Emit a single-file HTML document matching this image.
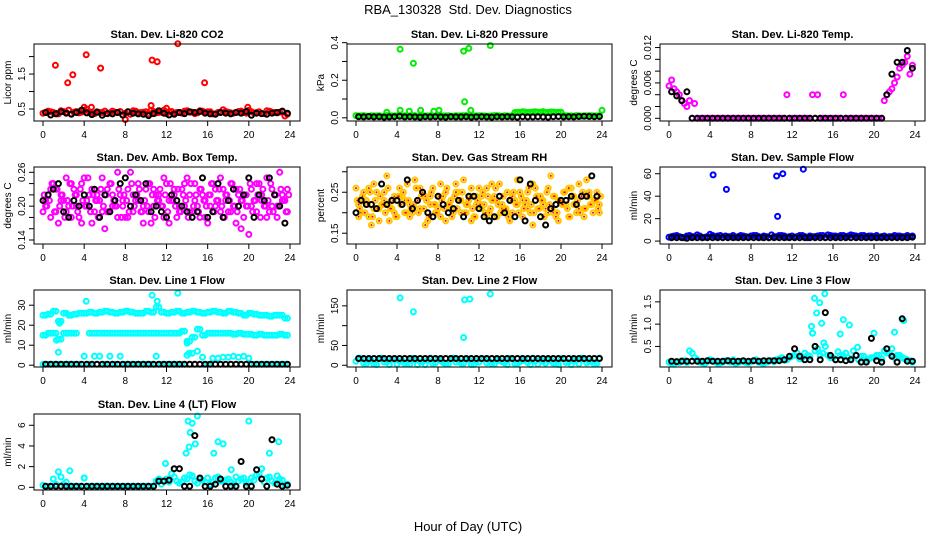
<!DOCTYPE html>
<html><head><meta charset="utf-8"><style>
html,body{margin:0;padding:0;background:#fff;}
svg{display:block;font-family:"Liberation Sans",Arial,sans-serif;}
</style></head><body>
<svg id="chart" width="936" height="540" viewBox="0 0 936 540" xmlns="http://www.w3.org/2000/svg">
<text x="468" y="14" text-anchor="middle" font-size="13">RBA_130328&#160; Std. Dev. Diagnostics</text>
<text x="468" y="531" text-anchor="middle" font-size="13">Hour of Day (UTC)</text>
</svg>
<script>
// hours
const H=[0.25,0.75,1.25,1.75,2.25,2.75,3.25,3.75,4.25,4.75,5.25,5.75,6.25,6.75,7.25,7.75,8.25,8.75,9.25,9.75,10.25,10.75,11.25,11.75,12.25,12.75,13.25,13.75,14.25,14.75,15.25,15.75,16.25,16.75,17.25,17.75,18.25,18.75,19.25,19.75,20.25,20.75,21.25,21.75,22.25,22.75,23.25,23.75];
const H2=[0,0.5,1,1.5,2,2.5,3,3.5,4,4.5,5,5.5,6,6.5,7,7.5,8,8.5,9,9.5,10,10.5,11,11.5,12,12.5,13,13.5,14,14.5,15,15.5,16,16.5,17,17.5,18,18.5,19,19.5,20,20.5,21,21.5,22,22.5,23,23.5];
const H3=[0.12,0.37,0.62,0.87,1.12,1.37,1.62,1.87,2.12,2.37,2.62,2.87,3.12,3.37,3.62,3.87,4.12,4.37,4.62,4.87,5.12,5.37,5.62,5.87,6.12,6.37,6.62,6.87,7.12,7.37,7.62,7.87,8.12,8.37,8.62,8.87,9.12,9.37,9.62,9.87,10.12,10.37,10.62,10.87,11.12,11.37,11.62,11.87,12.12,12.37,12.62,12.87,13.12,13.37,13.62,13.87,14.12,14.37,14.62,14.87,15.12,15.37,15.62,15.87,16.12,16.37,16.62,16.87,17.12,17.37,17.62,17.87,18.12,18.37,18.62,18.87,19.12,19.37,19.62,19.87,20.12,20.37,20.62,20.87,21.12,21.37,21.62,21.87,22.12,22.37,22.62,22.87,23.12,23.37,23.62,23.87];
const xTicks=[0,4,8,12,16,20,24];
// CO2
const co2A=[.40,.42,.38,.45,.40,.36,.43,.41,.50,.38,.42,.40,.37,.44,.40,.33,.42,.45,.39,.41,.36,.43,.40,.47,.42,.38,.40,.44,.41,.37,.45,.40,.42,.36,.41,.43,.39,.40,.44,.38,.42,.40,.37,.45,.41,.39,.43,.35];
const co2B=[.38,.44,.40,.36,.43,.47,.41,.39,.45,.42,.37,.40,.44,.39,.41,.43,.38,.35,.44,.40,.42,.46,.39,.41,.37,.43,.40,.38,.45,.41,.39,.44,.42,.36,.40,.48,.41,.38,.43,.40,.46,.39,.42,.37,.44,.40,.41,.30];
const co2OutH=[1.2,2.4,2.9,4.2,5.6,10.6,11.1,13.1,15.7,10.5,8.0,4.0,4.7,12.0,19.9];
const co2OutV=[1.75,1.25,1.48,2.05,1.67,1.9,1.85,2.37,1.25,0.6,0.2,0.55,0.55,0.52,0.55];
const co2K=[.40,.33,.36,.42,.38,.35,.40,.47,.39,.34,.41,.32,.37,.36,.40,.33,.42,.38,.36,.35,.31,.37,.45,.38,.33,.35,.40,.37,.42,.40,.43,.38,.36,.35,.40,.38,.36,.40,.38,.43,.32,.38,.37,.35,.38,.40,.44,.38];
// Pressure
const prA=[.01,.012,.008,.01,.011,.009,.012,.01,.008,.011,.01,.012,.009,.01,.011,.008,.012,.01,.009,.011,.01,.012,.008,.01,.011,.009,.01,.012,.008,.01,.011,.03,.032,.028,.031,.03,.033,.029,.031,.03,.012,.01,.009,.011,.01,.012,.01,.011];
const prB=[.012,.01,.009,.011,.01,.008,.012,.01,.011,.009,.01,.012,.008,.011,.01,.009,.012,.01,.011,.008,.01,.012,.009,.01,.011,.01,.008,.012,.01,.011,.009,.028,.03,.031,.029,.032,.03,.028,.031,.029,.03,.011,.01,.012,.009,.01,.011,.01];
const prOutH=[4.3,5.6,10.5,10.6,11.0,13.1,24,4.3,11.2,3.0,6.3,7.6,8.1,5.2];
const prOutV=[.365,.29,.355,.085,.37,.385,.04,.04,.04,.03,.04,.035,.04,.035];
const prK=[.006,.005,.007,.005,.006,.004,.005,.006,.008,.005,.006,.005,.004,.006,.005,.006,.005,.004,.006,.005,.005,.006,.004,.005,.006,.005,.004,.006,.005,.006,.005,.004,.006,.005,.005,.006,.005,.004,.006,.007,.005,.006,.005,.007,.008,.007,.006,.007];
// Temp
const tpA=[.0065,.0045,.003,.002,0,0,0,0,0,0,0,0,0,0,0,0,0,0,0,0,0,0,0,0,0,0,0,0,0,0,0,0,0,0,0,0,0,0,0,0,0,0,.004,.005,.007,.009,.0105,.009];
const tpB=[.0055,.005,.004,.0025,.003,.0025,0,0,0,0,0,0,0,0,0,0,0,0,0,0,0,0,0,.004,0,0,0,0,.004,.004,0,0,0,0,.004,0,0,0,0,0,0,0,.003,.0045,.006,.0085,.0095,.0075];
const tpK=[.0045,.0038,.003,.0045,0,0,0,0,0,0,0,0,0,0,0,0,0,0,0,0,0,0,0,0,0,0,0,0,0,0,0,0,0,0,0,0,0,0,0,0,0,0,.004,.0075,.0095,.0095,.0115,.0085];
// Amb box temp
const abA=[.21,.23,.19,.22,.25,.18,.20,.24,.21,.17,.22,.19,.23,.20,.26,.21,.18,.22,.24,.20,.19,.23,.21,.25,.17,.22,.20,.24,.19,.21,.23,.18,.22,.20,.25,.21,.19,.23,.16,.22,.20,.24,.21,.18,.23,.20,.22,.19];
const abB=[.19,.22,.24,.17,.21,.20,.23,.18,.25,.22,.19,.21,.16,.24,.20,.22,.18,.26,.21,.19,.23,.17,.22,.20,.24,.21,.18,.23,.25,.19,.20,.22,.17,.24,.21,.23,.19,.20,.22,.18,.15,.21,.24,.20,.19,.22,.26,.21];
const abC=[.20,.18,.23,.21,.19,.24,.22,.17,.20,.23,.21,.25,.19,.22,.18,.20,.23,.19,.21,.17,.24,.20,.22,.18,.21,.23,.19,.20,.22,.24,.18,.21,.20,.23,.19,.22,.24,.17,.21,.20,.23,.19,.22,.25,.20,.18,.21,.23];
const abD=[.22,.20,.21,.24,.19,.23,.20,.22,.18,.21,.24,.20,.22,.19,.23,.21,.20,.25,.19,.22,.21,.18,.23,.20,.22,.19,.24,.21,.20,.23,.18,.22,.21,.19,.24,.20,.22,.23,.19,.21,.20,.24,.22,.18,.21,.23,.20,.22,.19,.24,.21,.20,.23,.19,.22,.21,.18,.24,.20,.22,.19,.23,.21,.20,.22,.24,.19,.21,.23,.20,.18,.22,.21,.24,.20,.19,.23,.21,.22,.20,.24,.19,.21,.22,.18,.23,.20,.21,.24,.19,.22,.20,.23,.21,.19,.22];
const abK=[.21,.22,.23,.24,.19,.18,.21,.20,.22,.20,.23,.18,.22,.19,.21,.24,.25,.20,.22,.21,.24,.19,.20,.19,.18,.22,.21,.20,.19,.18,.19,.25,.18,.19,.24,.18,.21,.23,.20,.22,.25,.18,.22,.21,.25,.22,.20,.17];
// RH
const rhA=[.22,.25,.19,.27,.21,.23,.18,.24,.26,.20,.22,.28,.21,.17,.24,.22,.19,.25,.23,.27,.20,.22,.18,.24,.21,.26,.23,.19,.22,.25,.20,.28,.23,.21,.17,.24,.22,.26,.20,.23,.25,.19,.22,.27,.21,.24,.23,.20];
const rhB=[.26,.20,.23,.17,.25,.22,.29,.21,.19,.24,.27,.20,.23,.25,.18,.26,.21,.24,.22,.20,.25,.28,.23,.19,.26,.22,.20,.24,.27,.21,.18,.23,.25,.22,.20,.26,.24,.21,.29,.19,.23,.22,.26,.20,.24,.28,.22,.25];
const rhC=[.19,.23,.26,.21,.18,.25,.22,.20,.24,.23,.19,.21,.26,.24,.22,.20,.27,.18,.21,.25,.23,.20,.26,.22,.24,.19,.27,.23,.21,.20,.24,.22,.19,.25,.27,.21,.23,.20,.24,.18,.22,.26,.24,.21,.19,.25,.23,.22];
const rhD=[.23,.21,.24,.20,.22,.25,.19,.23,.21,.24,.22,.20,.26,.21,.23,.19,.24,.22,.25,.20,.23,.21,.22,.26,.20,.24,.21,.23,.19,.25,.22,.20,.24,.23,.21,.26,.22,.19,.24,.21,.23,.25,.20,.22,.24,.21,.19,.23,.22,.25,.20,.24,.21,.23,.26,.22,.20,.24,.21,.19,.23,.25,.22,.20,.24,.21,.23,.26,.22,.20,.24,.21,.23,.19,.25,.22,.21,.24,.20,.23,.22,.25,.21,.19,.24,.22,.23,.20,.25,.21,.24,.22,.20,.23,.21,.24];
const rhK=[.20,.23,.22,.22,.21,.27,.22,.23,.23,.22,.28,.21,.23,.25,.20,.19,.24,.22,.20,.21,.23,.19,.24,.24,.21,.19,.18,.19,.24,.20,.23,.19,.28,.18,.27,.23,.19,.17,.21,.22,.23,.23,.24,.22,.24,.24,.29,.24];
// Sample flow
const sfA=[4,5,3.5,4.5,4,5.5,3,4,5,4.5,3.5,4,5,4,4.5,3.5,5,4,4.5,3,4,5,4.5,4,3.5,5,4,4.5,4,5,3.5,5,4.5,5,4,5.5,4.5,5,4,4.5,5,4,3.5,4,4.5,4,5,4.5];
const sfB=[3.5,4.5,4,3,5,4,4.5,3.5,6,4,5,4.5,4,3.5,5,4,4.5,5,3.5,4,5.5,4,5,3.5,4.5,4,5,3,4,4.5,5,5.5,4.5,4,5,4.5,5,4,5,4.5,4,3.5,4.5,4,5,4.5,4,4];
const sfOutH=[4.3,5.6,10.5,10.6,11.1,13.1];
const sfOutV=[59,46,58,22,60,64];
const sfK=[3,3,3,2.5,3,3,3,3,3,3,3,3,3,3,3,3,3,3,3,3,3,3,3,3,3,3,3,3,3,3,3,3,3,3,3,3,3,3,3,3,3,3,3,3,3,3,3,3.5];
// Line 1
const l1Top=[25,25.5,27,22,26,25,25.5,26,26,26.5,26,26.5,27,26.5,26,26.5,27,26.5,26,26,27,26.5,29,26.5,26,26.5,27,26,26.5,27,26.5,26,26.5,27,26.5,26,27,26.5,26,25,26,25.5,25,25,24.5,25,25,23.5];
const l1Mid=[15,16,16,13,16,16,16,null,null,16,16,16,16,16,16,16,16,16,16,16,16,16,16,16,16,16,16,17,12,14,18,15,16,16,16,16,16,15.5,16,15.5,15.5,15,15.5,15,15,15,15.5,15];
const l1Low=[.5,.5,.5,.5,.5,.5,.5,.5,4.5,.5,4.5,4.5,.5,4.5,.5,4.5,.5,.5,.5,.5,.5,.5,4.5,.5,.5,.5,.5,.5,5,6,7,4,.5,3.5,3.5,4,4,4.5,4,4.5,3.5,.5,.5,.5,.5,.5,.5,.5];
const l1OutH=[1.5,1.6,4.2,10.6,11.1,13.1,14.0,14.2,1.3];
const l1OutV=[6.5,21,32,35,32,36,11,6,12.5];
const l1K=[.5,.5,.5,.5,.5,.5,.5,.5,.5,.5,.5,.5,.5,.5,.5,.5,.5,.5,.5,.5,.5,.5,.5,.5,.5,.5,.5,.5,.5,.5,.5,.5,.5,.5,.5,.5,.5,.5,.5,.5,.5,.5,.5,.5,.5,.5,.5,.5];
// Line 2
const l2A=[18,5,12,3,17,8,2,15,10,4,3,14,9,2,18,6,12,3,16,8,5,15,2,11,17,6,3,13,9,2,16,4,12,7,18,3,10,14,5,2,17,8,12,4,15,9,3,18];
const l2B=[10,16,4,12,2,18,8,14,3,11,6,17,2,9,13,4,15,7,3,18,12,5,14,2,8,16,10,3,12,6,17,4,9,14,2,11,15,5,13,3,16,7,2,12,18,6,10,4];
const l2OutH=[4.3,5.6,10.5,10.6,11.1,13.1];
const l2OutV=[170,135,70,165,167,180];
const l2K=[17,17,17,17,17,17,17,17,17,17,17,17,17,17,17,17,17,17,17,17,17,17,17,17,17,17,17,17,17,17,17,17,17,17,17,17,17,17,17,17,17,17,17,17,17,17,17,17];
// Line 3
const l3A=[.12,.15,.18,.14,.35,.2,.13,.16,.18,.12,.15,.17,.2,.14,.16,.13,.18,.15,.12,.17,.16,.22,.19,.25,.3,.22,.35,.28,.4,.3,.5,.25,.2,.3,.35,.22,.3,.28,.2,.25,.3,.22,.35,.45,.3,.25,.2,.15];
const l3B=[.15,.1,.14,.18,.4,.25,.15,.12,.2,.16,.13,.18,.15,.12,.17,.14,.16,.2,.13,.15,.18,.2,.25,.2,.28,.35,.25,.3,.8,.45,.35,.3,.25,.38,.3,.25,.4,.2,.28,.22,.25,.3,.4,.35,.25,.3,.22,.18];
const l3OutH=[14.0,14.2,14.4,14.7,14.9,15.1,15.2,16.7,17.0,17.6,18.4,20.0,22.0,22.9,13.9];
const l3OutV=[0.8,1.58,1.25,1.48,1.02,0.58,1.68,0.78,1.1,0.98,0.48,0.8,0.82,1.08,0.95];
const l3K=[.17,.16,.17,.17,.17,.17,.17,.18,.17,.17,.17,.18,.17,.17,.18,.17,.18,.17,.18,.18,.18,.18,.2,.28,.45,.28,.2,.2,.5,.2,1.26,.3,.2,.2,.18,.2,.3,.15,.15,.68,.18,.15,.45,.28,.15,1.12,.17,.17];
// Line 4
const l4A=[.1,.1,.3,1,.5,.1,.1,.1,.1,.1,.1,.1,.1,.1,.1,.1,.1,.1,.1,.1,.1,.1,.8,.6,.5,1,.4,.9,1.2,.6,.8,.5,.3,.9,.6,.7,.5,1,.8,.4,.9,1.2,1.8,.9,.6,1.1,.7,.3];
const l4B=[.2,.1,.8,1.5,.3,.1,.1,.1,.9,.1,.1,.1,.1,.1,.1,.1,.1,.1,.1,.1,.1,.1,.6,.3,.8,1.3,.6,.5,.8,1.1,.4,.7,.9,.5,1,.6,.8,.3,.6,.9,.5,.7,1.3,.5,1,.4,.8,.2];
const l4OutH=[2.6,4.0,11.9,13.9,14.1,14.3,14.5,14.8,15.0,16.6,17.0,17.5,18.3,20.0,22.0,22.9,14.2];
const l4OutV=[1.6,0.9,2.3,3.3,6.4,5.3,6.2,4.2,6.9,3.3,4.4,4.2,1.7,6.4,3.3,4.4,3.9];
const l4K=[.1,.1,.1,.1,.1,.1,.1,.1,.1,.1,.1,.1,.1,.1,.1,.1,.1,.1,.1,.1,.1,.1,.6,.6,.7,1.8,1.8,.1,.1,5,.9,.1,.1,.3,.8,.1,.1,.1,2.5,.1,.1,1.7,.8,.1,4.6,.3,.1,.2];

const RED="#ff0000",GRN="#00ee00",MAG="#ff00ff",BLU="#0000ff",CYN="#00ffff",YEL="#ffc800",BLK="#000000";
const svg=document.getElementById('chart');
const NS="http://www.w3.org/2000/svg";
const colL=[34,347,660],colR=[300,612,925],rowT=[44,167,290,414],rowB=[121,244,367,490];

function mk(tag,attrs,parent){const e=document.createElementNS(NS,tag);for(const k in attrs)e.setAttribute(k,attrs[k]);parent.appendChild(e);return e;}

function panel(c,r,title,ylab,ylim,yt,ytl,series,name){
  const g=mk('g',{},svg);
  
  
  const L=colL[c],R=colR[c],T=rowT[r],B=rowB[r];
  const x0=L+9,x1=R-10;
  const xs=h=>x0+(x1-x0)*h/24;
  const ys=v=>B-(B-T)*(v-ylim[0])/(ylim[1]-ylim[0]);
  const t=mk('text',{x:(L+R)/2,y:T-6,'text-anchor':'middle','font-size':'11','font-weight':'bold'},g);
  t.textContent=title;
  
  
  const yl=mk('text',{transform:`translate(${L-23},${(T+B)/2}) rotate(-90)`,'text-anchor':'middle','font-size':'10'},g);
  yl.textContent=ylab;
  
  
  const pts=mk('g',{fill:'none','stroke-width':'2'},g);
  for(const s of series){
    for(let i=0;i<s.h.length;i++){
      const v=s.v[i]; if(v===null||v===undefined)continue;
      const ci=mk('circle',{cx:xs(s.h[i]).toFixed(1),cy:ys(v).toFixed(1),r:'2.5',stroke:s.col},pts);
      
      
      if(s.dot){mk('circle',{cx:xs(s.h[i]).toFixed(1),cy:ys(v).toFixed(1),r:'1',fill:s.dot,stroke:'none'},pts);}
    }
  }
  const box=mk('rect',{x:L,y:T,width:R-L,height:B-T,fill:'none',stroke:'#000','stroke-width':'1'},g);
  
  
  mk('line',{x1:xs(0),x2:xs(24),y1:B,y2:B,stroke:'#000'},g);
  for(const h of xTicks){
    mk('line',{x1:xs(h),x2:xs(h),y1:B,y2:B+5,stroke:'#000'},g);
    const tl=mk('text',{x:xs(h),y:B+17,'text-anchor':'middle','font-size':'10'},g);
    tl.textContent=h;
    
    
  }
  mk('line',{x1:L,x2:L,y1:ys(yt[0]),y2:ys(yt[yt.length-1]),stroke:'#000'},g);
  yt.forEach((v,i)=>{
    mk('line',{x1:L-5,x2:L,y1:ys(v),y2:ys(v),stroke:'#000'},g);
    if(ytl[i]){
      const tl=mk('text',{transform:`translate(${L-9},${ys(v)}) rotate(-90)`,'text-anchor':'middle','font-size':'10'},g);
      tl.textContent=ytl[i];
      
      
    }
  });
}

panel(0,0,'Stan. Dev. Li-820 CO2','Licor ppm',[0.157,2.36],[0.5,1,1.5,2],['0.5','','1.5',''],
 [{h:H,v:co2A,col:RED},{h:H2,v:co2B,col:RED},{h:co2OutH,v:co2OutV,col:RED},{h:H,v:co2K,col:BLK}],'co2');
panel(1,0,'Stan. Dev. Li-820 Pressure','kPa',[-0.017,0.393],[0,0.1,0.2,0.3,0.4],['0.0','','0.2','','0.4'],
 [{h:H,v:prA,col:GRN},{h:H2,v:prB,col:GRN},{h:prOutH,v:prOutV,col:GRN},{h:H,v:prK,col:BLK}],'pressure');
panel(2,0,'Stan. Dev. Li-820 Temp.','degrees C',[-0.00046,0.0126],[0,0.002,0.004,0.006,0.008,0.010,0.012],['0.000','','','0.006','','','0.012'],
 [{h:H,v:tpA,col:MAG},{h:H2,v:tpB,col:MAG},{h:H,v:tpK,col:BLK}],'temp');
panel(0,1,'Stan. Dev. Amb. Box Temp.','degrees C',[0.1329,0.2694],[0.14,0.16,0.18,0.20,0.22,0.24,0.26],['0.14','','','0.20','','','0.26'],
 [{h:H,v:abA,col:MAG},{h:H2,v:abB,col:MAG},{h:H,v:abC,col:MAG},{h:H3,v:abD,col:MAG},{h:H2,v:abK,col:BLK}],'amb-box-temp');
panel(1,1,'Stan. Dev. Gas Stream RH','percent',[0.1237,0.3116],[0.15,0.20,0.25,0.30],['0.15','','0.25',''],
 [{h:H,v:rhA,col:YEL,dot:RED},{h:H2,v:rhB,col:YEL,dot:RED},{h:H,v:rhC,col:YEL,dot:RED},{h:H3,v:rhD,col:YEL,dot:RED},{h:H2,v:rhK,col:BLK}],'rh');
panel(2,1,'Stan. Dev. Sample Flow','ml/min',[-2.6,66],[0,20,40,60],['0','20','40','60'],
 [{h:H,v:sfA,col:BLU},{h:H2,v:sfB,col:BLU},{h:sfOutH,v:sfOutV,col:BLU},{h:H,v:sfK,col:BLK}],'sample-flow');
panel(0,2,'Stan. Dev. Line 1 Flow','ml/min',[-0.9,37.6],[0,10,20,30],['0','10','20','30'],
 [{h:H,v:l1Top,col:CYN},{h:H2,v:l1Top,col:CYN},{h:H2,v:l1Mid,col:CYN},{h:H,v:l1Mid,col:CYN},{h:H2,v:l1Low,col:CYN},{h:l1OutH,v:l1OutV,col:CYN},{h:H,v:l1K,col:BLK}],'line1-flow');
panel(1,2,'Stan. Dev. Line 2 Flow','ml/min',[-4.4,190],[0,50,100,150],['0','50','','150'],
 [{h:H,v:l2A,col:CYN},{h:H2,v:l2B,col:CYN},{h:l2OutH,v:l2OutV,col:CYN},{h:H,v:l2K,col:BLK}],'line2-flow');
panel(2,2,'Stan. Dev. Line 3 Flow','ml/min',[0.039,1.766],[0.5,1.0,1.5],['0.5','1.0','1.5'],
 [{h:H,v:l3A,col:CYN},{h:H2,v:l3B,col:CYN},{h:l3OutH,v:l3OutV,col:CYN},{h:H,v:l3K,col:BLK}],'line3-flow');
panel(0,3,'Stan. Dev. Line 4 (LT) Flow','ml/min',[-0.26,7.09],[0,2,4,6],['0','2','4','6'],
 [{h:H,v:l4A,col:CYN},{h:H2,v:l4B,col:CYN},{h:l4OutH,v:l4OutV,col:CYN},{h:H,v:l4K,col:BLK}],'line4-flow');
</script>
</body></html>
